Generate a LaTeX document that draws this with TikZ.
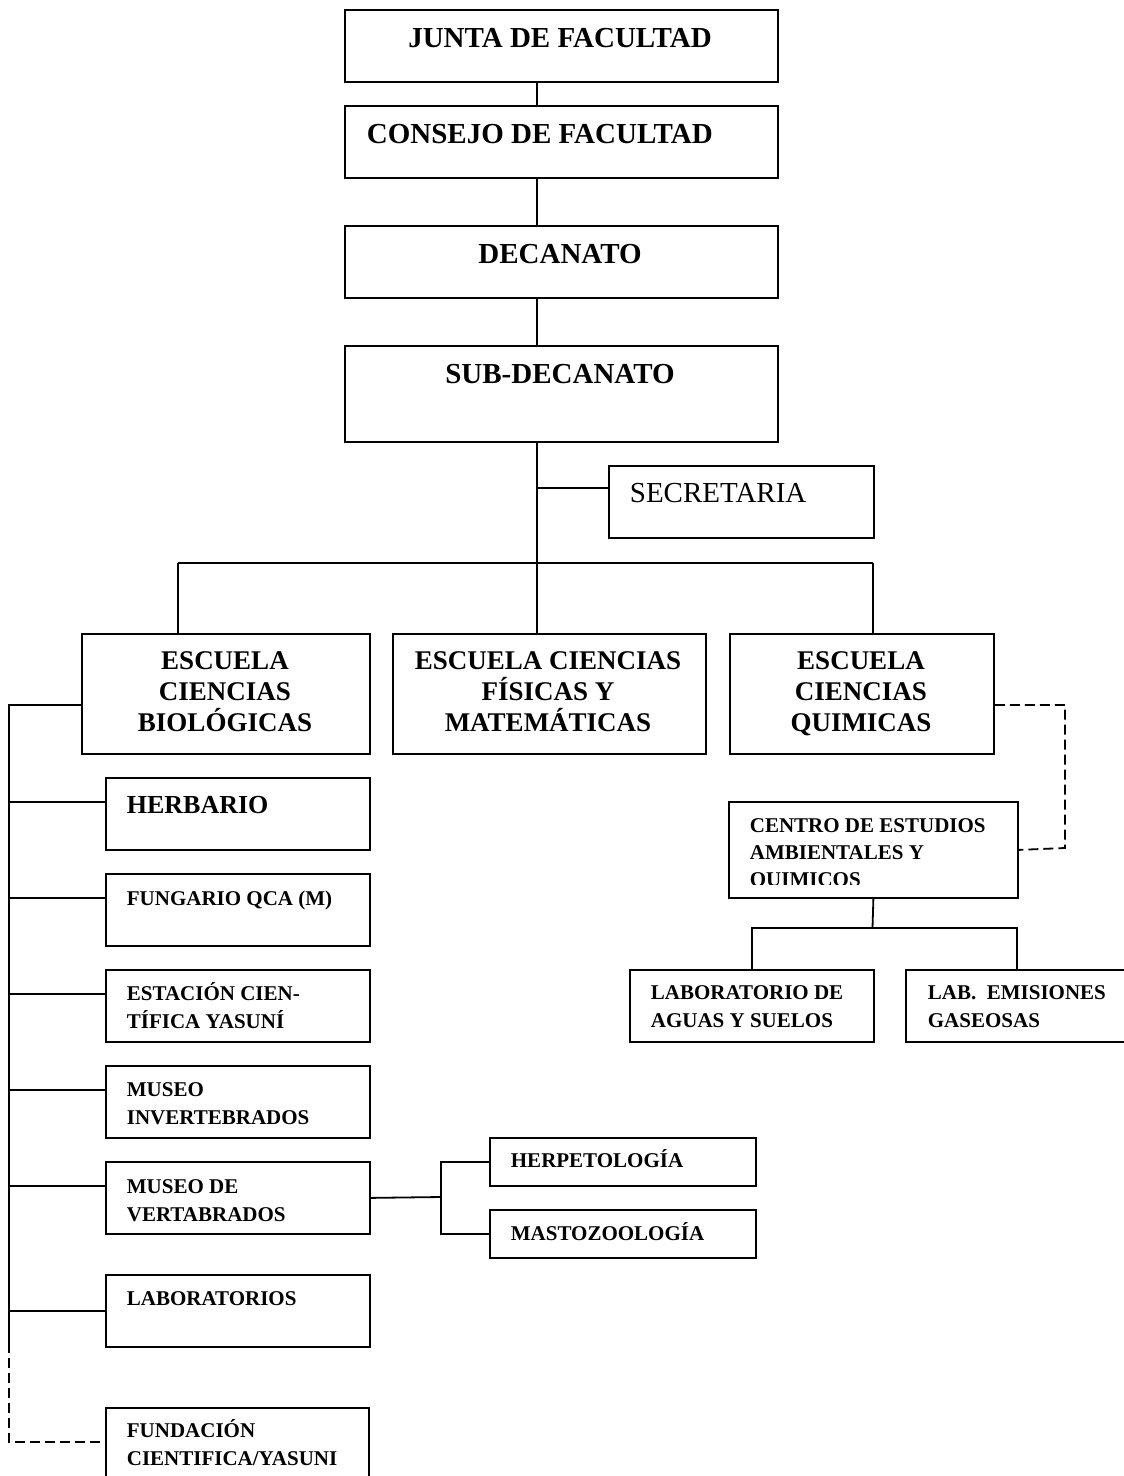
\documentclass[tikz,border=0pt]{standalone}
\usepackage{fontspec}
\setmainfont{Liberation Serif}

\begin{document}
\begin{tikzpicture}[x=1pt, y=-1pt, line width=1.8pt,
    box/.style = {draw, rectangle, inner sep=0, anchor=north west},
    big/.style = {font=\fontsize{29}{33}\selectfont\bfseries, inner sep=0},
    mid/.style = {font=\fontsize{27}{31}\selectfont\bfseries, inner sep=0, align=center, anchor=base},
    sml/.style = {font=\fontsize{21}{28}\selectfont\bfseries, inner sep=0, align=left, anchor=base west},
    dashline/.style = {dash pattern=on 10pt off 5pt}]
    \useasboundingbox (0,0) rectangle (1124,1476);
    % Nodes

    \node[box, minimum width=433pt, minimum height=72pt] (junta) at (344,9) {};
    \node[box, minimum width=433pt, minimum height=72pt] (consejo) at (344,105) {};
    \node[box, minimum width=433pt, minimum height=72pt] (decanato) at (344,225) {};
    \node[box, minimum width=433pt, minimum height=96pt] (subdec) at (344,345) {};
    \node[box, minimum width=265pt, minimum height=72pt] (secret) at (608,465) {};

    \node[big, anchor=base] (juntaT) at (560,47) {JUNTA DE FACULTAD};
    \node[big, anchor=base west] (consejoT) at (366,143) {CONSEJO DE FACULTAD};
    \node[big, anchor=base] (decanatoT) at (560,263) {DECANATO};
    \node[big, anchor=base] (subdecT) at (560,383) {SUB-DECANATO};
    \node[big, font=\fontsize{29}{33}\selectfont, anchor=base west] (secretT) at (629,502) {SECRETARIA};

    \node[box, minimum width=288pt, minimum height=120pt] (escbio) at (81,633) {};
    \node[box, minimum width=313pt, minimum height=120pt] (escfis) at (392,633) {};
    \node[box, minimum width=264pt, minimum height=120pt] (escqui) at (729,633) {};

    % base = last line
    \node[mid] (escbioT) at (225,731) {ESCUELA\\CIENCIAS\\BIOLÓGICAS};
    \node[mid] (escfisT) at (548,731) {ESCUELA CIENCIAS\\FÍSICAS Y\\MATEMÁTICAS};
    \node[mid] (escquiT) at (861,731) {ESCUELA\\CIENCIAS\\QUIMICAS};

    \node[box, minimum width=289pt, minimum height=96pt] (centro) at (728,801) {};
    \node[box, minimum width=244pt, minimum height=72pt] (labagua) at (629,969) {};
    \node[box, minimum width=250pt, minimum height=72pt] (labemis) at (905,969) {};

    \begin{scope}
      \clip (728,801) rectangle (1017,884);
      \node[sml, font=\fontsize{21}{27}\selectfont\bfseries] (centroT) at (749,886) {CENTRO DE ESTUDIOS\\AMBIENTALES Y\\QUIMICOS};
    \end{scope}
    \node[sml] (labaguaT) at (650,1027) {LABORATORIO DE\\AGUAS Y SUELOS};
    \node[sml] (labemisT) at (927,1027) {LAB.\ \ EMISIONES\\GASEOSAS};

    \node[box, minimum width=264pt, minimum height=72pt] (herbario) at (105,777) {};
    \node[box, minimum width=264pt, minimum height=72pt] (fungario) at (105,873) {};
    \node[box, minimum width=264pt, minimum height=72pt] (estacion) at (105,969) {};
    \node[box, minimum width=264pt, minimum height=72pt] (museoinv) at (105,1065) {};
    \node[box, minimum width=264pt, minimum height=72pt] (museovert) at (105,1161) {};
    \node[box, minimum width=264pt, minimum height=72pt] (labs) at (105,1274) {};
    \node[box, minimum width=263pt, minimum height=100pt] (fundacion) at (105,1407) {};
    \node[box, minimum width=266pt, minimum height=48pt] (herpeto) at (489,1137) {};
    \node[box, minimum width=266pt, minimum height=48pt] (masto) at (489,1209) {};

    \node[sml, font=\fontsize{26}{30}\selectfont\bfseries] (herbarioT) at (126,813) {HERBARIO};
    \node[sml] (fungarioT) at (126,905) {FUNGARIO QCA (M)};
    \node[sml] (estacionT) at (126,1028) {ESTACIÓN CIEN-\\TÍFICA YASUNÍ};
    \node[sml] (museoinvT) at (126,1124) {MUSEO\\INVERTEBRADOS};
    \node[sml] (museovertT) at (126,1221) {MUSEO DE\\VERTABRADOS};
    \node[sml] (labsT) at (126,1305) {LABORATORIOS};
    \node[sml] (fundacionT) at (126,1465) {FUNDACIÓN\\CIENTIFICA/YASUNI};
    \node[sml] (herpetoT) at (510,1167) {HERPETOLOGÍA};
    \node[sml] (mastoT) at (510,1240) {MASTOZOOLOGÍA};

    \coordinate (bus) at (537,563);
    \coordinate (busL) at (178,563);
    \coordinate (busR) at (873,563);
    \coordinate (sec) at (537,488);
    \coordinate (lbus) at (9,705);
    \coordinate (lend) at (9,1343);
    \coordinate (ldash) at (9,1442);
    \coordinate (qd) at (1065,848);
    \coordinate (cfork) at (872.5,928);
    \coordinate (le) at (1017,928);
    \coordinate (fork) at (441,1197);

    % Edges
    \draw (junta.south -| bus) -- (consejo.north -| bus);
    \draw (consejo.south -| bus) -- (decanato.north -| bus);
    \draw (decanato.south -| bus) -- (subdec.north -| bus);
    \draw (subdec.south -| bus) -- (bus);
    \draw (sec) -- (sec -| secret.west);
    \draw (busL) -- (busR);
    \draw (busL) -- (escbio.north -| busL);
    \draw (bus) -- (escfis.north -| bus);
    \draw (busR) -- (escqui.north -| busR);

    \draw (escbio.west |- lbus) -- (lbus) -- (lend);
    \draw[dashline] (lend) -- (ldash) -- (ldash -| fundacion.west);
    \foreach \b in {herbario, fungario, estacion, museoinv, museovert}
      \draw ([yshift=12pt]\b.west) -- ([yshift=12pt]\b.west -| lbus);
    \draw (labs.west) -- (labs.west -| lbus);

    \draw (museovert.east) -- (fork);
    \draw (herpeto.west) -| (fork) |- (masto.west);

    \draw[dashline] ([yshift=-11pt]escqui.east) -| (qd) -- (centro.east);
    \draw (centro.south) -- (cfork);
    \draw (labagua.north) |- (le) -- (le |- labemis.north);

\end{tikzpicture}
\end{document}
